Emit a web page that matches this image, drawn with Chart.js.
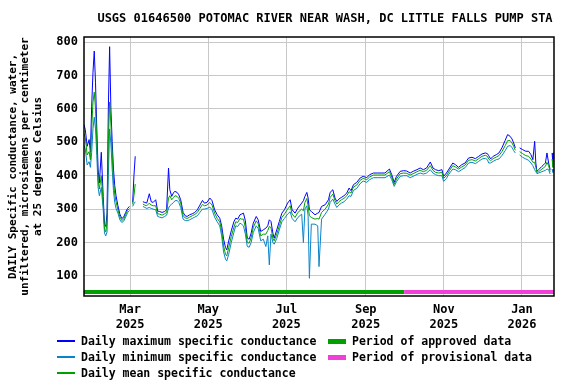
<!DOCTYPE html>
<html>
<head>
<meta charset="utf-8">
<script src="https://cdn.jsdelivr.net/npm/chart.js@4"></script>
<style>
  body { margin: 0; background: #fff; }
  #wrap { position: relative; width: 576px; height: 384px; }
  #legend { position: absolute; left: 0; top: 0; width: 576px; height: 384px; pointer-events: none;
            font: bold 11.5px "DejaVu Sans Mono", monospace; color: #000; }
  .item { position: absolute; white-space: pre; line-height: 14px; }
  .swatch { position: absolute; }
</style>
</head>
<body>
<div id="wrap">
  <canvas id="chart" width="576" height="384"></canvas>
  <div id="legend"></div>
</div>
<script>
// station / labels
var titleText = "USGS 01646500 POTOMAC RIVER NEAR WASH, DC LITTLE FALLS PUMP STA";
var yTitleLines = ["DAILY Specific conductance, water,", "unfiltered, microsiemens per centimeter", "at 25 degrees Celsius"];

// x axis is days counted from 2025-01-01 (day 0)
var xMin = 23, xMax = 390;
var tickDays = [59, 120, 181, 243, 304, 365];
var tickLabels = [["Mar", "2025"], ["May", "2025"], ["Jul", "2025"], ["Sep", "2025"], ["Nov", "2025"], ["Jan", "2026"]];
var yTicks = [100, 200, 300, 400, 500, 600, 700, 800];

var approvedEnd = 273;   // 2025-10-01, provisional after that

var days = [23, 24, 25.5, 27, 28, 29, 30, 31, 32, 33, 34, 35, 36.5, 38, 39, 40, 41, 42, 43, 44, 45, 46, 47, 48, 49.5, 51, 52.5, 54, 55.5, 57, 58.5,
  60, 61, 62, 63, 64, 66, 67.5, 69, 70.5, 72, 74, 75.5, 77, 79, 80.5, 82, 84, 86, 87.5, 89, 90, 91.5, 93, 94, 95.7, 97, 98.5,
  100.4, 102, 103.5, 105.5, 107.5, 109.5, 111.5, 113.5, 115.5, 117, 119, 121.3, 123, 125, 127, 129, 130.5, 132, 133.5, 134.5, 136, 138, 140, 141.5, 143,
  144.8, 146, 147.5, 149, 150.5, 152, 153.5, 155.2, 157.5, 159, 161, 163, 165, 166.5, 167.7, 169, 170.5, 171.5, 173.5, 175.5, 177.5, 179.5,
  182, 184, 185.5, 187.8, 190, 193, 194.3, 195.5, 197, 198, 199, 200.5, 203.4, 205.5, 206.5, 208.5, 211.3, 213.9, 215.2, 217.3, 219, 220.4,
  222, 224, 226, 228.2, 230, 231.5, 233.4, 236, 238.6, 241, 243.8, 246, 249, 252, 255, 258, 261.5, 263.3, 265.2, 267, 269.9, 272.5,
  275, 277.7, 280, 283, 285.5, 288, 290.5, 293.4, 295.5, 297.5, 300, 302.5, 303.8, 306, 308.5, 311, 313, 315.5, 318, 320.6, 323.3, 326, 328.6,
  331.2, 333.8, 336.4, 338, 339, 340.5, 342.5, 345, 347, 349.3, 351.9, 353.8, 355.7, 357.2, 358.5, 359.8, 361, 363.2, 365.5, 368, 370.2, 372,
  373.5, 374.9, 375.8, 376.7, 378, 380.6, 382, 383.3, 384.5, 385.8, 387, 387.8, 388.5, 389.2, 390];

var maxVals = [553, 538, 488, 508, 470, 608, 708, 773, 678, 540, 420, 378, 470, 338, 255, 248, 288, 600, 786, 600, 502, 420, 370, 340, 310, 285, 272, 276, 290, 302, 308,
  null, 320, 400, 458, null, 338, null, 322, 320, 318, 346, 322, 320, 328, 294, 293, 290, 293, 298, 423, 358, 338, 350, 353, 350, 343, 328,
  290, 280, 278, 283, 286, 290, 298, 312, 326, 318, 320, 333, 325, 298, 283, 273, 250, 210, 185, 178, 205, 235, 262, 273, 270,
  283, 285, 288, 265, 213, 210, 228, 258, 278, 268, 233, 238, 243, 250, 268, 263, 228, 213, 238, 263, 288, 298,
  318, 328, 298, 288, 303, 318, 325, 338, 350, 333, 298, 293, 283, 288, 290, 308, 313, 328, 350, 358, 333, 323,
  330, 335, 340, 348, 363, 355, 373, 380, 393, 398, 394, 403, 408, 408, 408, 408, 420, 403, 380, 398, 413, 415,
  414, 408, 413, 418, 423, 418, 423, 441, 423, 418, 415, 418, 398, 408, 423, 438, 433, 425, 433, 438, 453, 455, 451,
  458, 465, 468, 466, 460, 450, 458, 463, 468, 483, 506, 523, 518, 510, 498, 483, null, 483, 478, 473, 473, 463,
  448, 503, 438, 413, 418, 428, 433, 438, 468, 438, 418, null, 468, 433, 470];

var meanVals = [525, 515, 462, 472, 447, 540, 620, 650, 600, 500, 390, 360, 400, 318, 240, 232, 262, 500, 620, 555, 465, 385, 345, 322, 298, 277, 266, 270, 283, 296, 302,
  null, 314, 340, 375, null, 330, null, 315, 312, 310, 318, 312, 310, 310, 286, 285, 282, 286, 290, 333, 340, 328, 335, 340, 338, 332, 318,
  280, 274, 272, 276, 280, 284, 290, 302, 314, 310, 312, 320, 312, 288, 272, 262, 235, 190, 165, 160, 185, 218, 245, 262, 260,
  272, 270, 270, 245, 200, 198, 215, 245, 265, 256, 220, 225, 225, 236, 248, 245, 212, 205, 225, 250, 275, 285,
  300, 310, 285, 275, 290, 300, 295, 320, 332, 310, 280, 275, 270, 272, 270, 290, 300, 315, 335, 345, 325, 315,
  322, 328, 332, 340, 352, 348, 366, 372, 386, 392, 388, 396, 402, 402, 402, 402, 412, 396, 374, 390, 406, 408,
  407, 402, 406, 412, 416, 412, 416, 430, 416, 410, 408, 410, 392, 400, 416, 430, 426, 420, 426, 432, 446, 448, 444,
  451, 458, 461, 458, 450, 445, 451, 456, 460, 472, 490, 505, 505, 498, 488, 476, null, 472, 466, 460, 458, 450,
  440, 440, 425, 410, 412, 420, 424, 428, 440, 430, 412, null, 450, 425, 455];

var minVals = [490, 480, 432, 442, 425, 470, 540, 575, 540, 460, 365, 340, 365, 298, 228, 220, 232, 400, 540, 495, 420, 355, 320, 302, 288, 268, 260, 264, 276, 289, 296,
  null, 308, 316, 322, null, 324, null, 308, 305, 302, 305, 302, 300, 298, 278, 276, 274, 278, 282, 303, 310, 315, 320, 325, 326, 320, 305,
  270, 266, 265, 268, 272, 276, 280, 290, 300, 300, 302, 306, 298, 276, 262, 250, 220, 172, 150, 145, 165, 200, 230, 250, 248,
  258, 255, 250, 225, 188, 186, 200, 230, 250, 242, 205, 210, 188, 220, 133, 225, 200, 195, 212, 238, 262, 272,
  285, 292, 272, 262, 275, 285, 200, 300, 310, 280, 93, 255, 255, 250, 128, 270, 285, 300, 320, 330, 315, 305,
  312, 318, 322, 330, 340, 338, 356, 362, 376, 384, 380, 388, 394, 394, 394, 394, 402, 388, 368, 382, 398, 400,
  400, 394, 398, 404, 408, 405, 408, 418, 408, 403, 400, 400, 383, 392, 408, 420, 418, 412, 418, 424, 438, 440, 436,
  443, 450, 452, 448, 438, 438, 443, 448, 450, 460, 475, 488, 490, 485, 475, 468, null, 462, 455, 450, 446, 438,
  430, 418, 412, 406, 408, 412, 414, 416, 420, 418, 405, null, 420, 410, 420];

function pts(vals) {
  return days.map(function (d, i) { return { x: d, y: vals[i] }; });
}

var monoFont = '"DejaVu Sans Mono", monospace';

var framePlugin = {
  id: 'frame',
  afterDraw: function (chart) {
    var ctx = chart.ctx, a = chart.chartArea, xs = chart.scales.x;
    // period of approved / provisional data, along the bottom of the plot
    var x0 = xs.getPixelForValue(xMin), x1 = xs.getPixelForValue(approvedEnd), x2 = xs.getPixelForValue(xMax);
    ctx.save();
    ctx.fillStyle = '#00a000';
    ctx.fillRect(x0, a.bottom - 6, x1 - x0, 4);
    ctx.fillStyle = '#f040d8';
    ctx.fillRect(x1, a.bottom - 6, x2 - x1, 4);
    ctx.strokeStyle = '#000';
    ctx.lineWidth = 1.5;
    ctx.strokeRect(a.left, a.top, a.right - a.left, a.bottom - a.top);
    // title
    ctx.fillStyle = '#000';
    ctx.font = 'bold 12px ' + monoFont;
    ctx.textAlign = 'center';
    ctx.textBaseline = 'middle';
    ctx.fillText(titleText, 325, 19);
    // y axis title, three rotated lines
    ctx.font = 'bold 11px ' + monoFont;
    ctx.translate(0, (a.top + a.bottom) / 2);
    ctx.rotate(-Math.PI / 2);
    yTitleLines.forEach(function (t, i) { ctx.fillText(t, 0, 13 + i * 12.5); });
    ctx.restore();
  }
};

new Chart(document.getElementById('chart'), {
  type: 'line',
  data: {
    datasets: [
      { label: 'Daily mean specific conductance', data: pts(meanVals), borderColor: '#00a000', order: 1 },
      { label: 'Daily maximum specific conductance', data: pts(maxVals), borderColor: '#0000ff', order: 2 },
      { label: 'Daily minimum specific conductance', data: pts(minVals), borderColor: '#0a84c8', order: 3 }
    ]
  },
  options: {
    responsive: false,
    animation: false,
    spanGaps: false,
    elements: { point: { radius: 0 }, line: { borderWidth: 1, tension: 0 } },
    layout: { padding: { top: 37, right: 22, left: 0, bottom: 0 } },
    plugins: { legend: { display: false }, title: { display: false }, tooltip: { enabled: false } },
    scales: {
      x: {
        type: 'linear', min: xMin, max: xMax,
        afterBuildTicks: function (s) { s.ticks = tickDays.map(function (v) { return { value: v }; }); },
        afterFit: function (s) { s.height = 88; },
        ticks: {
          autoSkip: false, maxRotation: 0, padding: 7, color: '#000',
          font: { family: monoFont, size: 12, weight: 'bold' }, lineHeight: 1.2,
          callback: function (v) { return tickLabels[tickDays.indexOf(v)]; }
        },
        grid: { color: '#c8c8c8', lineWidth: 1, drawTicks: false },
        border: { display: false }
      },
      y: {
        type: 'linear', min: 40, max: 815,
        afterBuildTicks: function (s) { s.ticks = yTicks.map(function (v) { return { value: v }; }); },
        afterFit: function (s) { s.width = 84; },
        ticks: { padding: 6, color: '#000', font: { family: monoFont, size: 12, weight: 'bold' } },
        grid: { color: '#c8c8c8', lineWidth: 1, drawTicks: false },
        border: { display: false }
      }
    }
  },
  plugins: [framePlugin]
});

// legend below the plot
var legendItems = [
  { text: 'Daily maximum specific conductance', color: '#0000ff', w: 2, x: 57, y: 341 },
  { text: 'Daily minimum specific conductance', color: '#0a84c8', w: 2, x: 57, y: 357 },
  { text: 'Daily mean specific conductance', color: '#00a000', w: 2, x: 57, y: 373 },
  { text: 'Period of approved data', color: '#00a000', w: 5, x: 328, y: 341 },
  { text: 'Period of provisional data', color: '#f040d8', w: 5, x: 328, y: 357 }
];
var leg = document.getElementById('legend');
legendItems.forEach(function (it) {
  var sw = document.createElement('div');
  sw.className = 'swatch';
  sw.style.left = it.x + 'px';
  sw.style.top = Math.round(it.y - it.w / 2) + 'px';
  sw.style.width = '18px';
  sw.style.height = it.w + 'px';
  sw.style.background = it.color;
  leg.appendChild(sw);
  var tx = document.createElement('div');
  tx.className = 'item';
  tx.style.left = (it.x + 24) + 'px';
  tx.style.top = (it.y - 7) + 'px';
  tx.textContent = it.text;
  leg.appendChild(tx);
});
</script>
</body>
</html>
